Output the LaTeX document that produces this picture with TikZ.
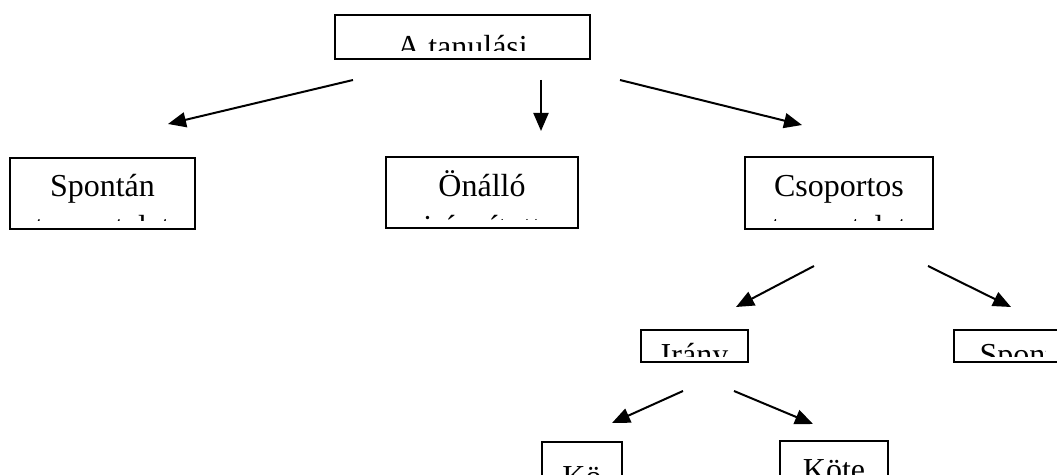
\documentclass[tikz,border=0pt]{standalone}
\usepackage{fontspec}
\setmainfont{Liberation Serif}
\usetikzlibrary{arrows.meta}
\tikzset{
  frame/.style={draw,line width=1pt,inner sep=0pt},
  word/.style={font=\fontsize{16}{19}\selectfont,inner sep=0pt,anchor=base},
  link/.style={line width=1pt,-{Triangle[length=9pt,width=7.5pt]}}
}
\begin{document}
\begin{tikzpicture}[x=0.5pt,y=-0.5pt]
  \useasboundingbox (0,0) rectangle (1057,475);
  \clip (0,0) rectangle (1057,475);
  % boxes
  \node[frame,minimum width=127.5pt,minimum height=22pt] (tanul) at (462.5,37) {};
  \node[frame,minimum width=92.5pt,minimum height=35.5pt] (spont) at (102.5,193.5) {};
  \node[frame,minimum width=96pt,minimum height=35.5pt] (onall) at (482,192.5) {};
  \node[frame,minimum width=94pt,minimum height=36pt] (csop) at (839,193) {};
  \node[frame,minimum width=53.5pt,minimum height=16pt] (irany) at (694.5,346) {};
  \node[frame,minimum width=78pt,minimum height=16pt] (spon) at (1032,346) {};
  \node[frame,minimum width=40pt,minimum height=39pt] (koto) at (582,481) {};
  \node[frame,minimum width=54pt,minimum height=39.5pt] (kote) at (834,480.5) {};
  % texts, cut off as in the original boxes
  \begin{scope}
    \clip (337,17) rectangle (588,51);
    \node[word] (tanult) at (462.5,58) {A tanulási};
  \end{scope}
  \begin{scope}
    \clip (12,160) rectangle (193,221);
    \node[word] (spontt) at (102.5,197) {Spontán};
    \node[word] (spontu) at (102.5,238) {tapasztalat};
  \end{scope}
  \begin{scope}
    \clip (388,159) rectangle (576,220);
    \node[word] (onallt) at (482,197) {Önálló};
    \node[word] (onallu) at (482,238) {irányított};
  \end{scope}
  \begin{scope}
    \clip (747,159) rectangle (931,221);
    \node[word] (csopt) at (839,197) {Csoportos};
    \node[word] (csopu) at (839,238) {tapasztalat};
  \end{scope}
  \begin{scope}
    \clip (643,332) rectangle (746,357);
    \node[word] (iranyt) at (694.5,366) {Irány};
  \end{scope}
  \begin{scope}
    \clip (956,332) rectangle (1045,357);
    \node[word] (spont2) at (1032,366) {Spontán};
  \end{scope}
  \begin{scope}
    \clip (544,444) rectangle (620,500);
    \node[word] (kotot) at (582,488) {Kö};
  \end{scope}
  \begin{scope}
    \clip (782,443) rectangle (886,500);
    \node[word] (kotet) at (834,481) {Köte};
  \end{scope}
  % arrow ends
  \coordinate (a1) at (353,80);  \coordinate (b1) at (168,124);
  \coordinate (a2) at (541,80);  \coordinate (b2) at (541,131);
  \coordinate (a3) at (620,80);  \coordinate (b3) at (802,125);
  \coordinate (a4) at (814,266); \coordinate (b4) at (736,307);
  \coordinate (a5) at (928,266); \coordinate (b5) at (1011,307);
  \coordinate (a6) at (683,391); \coordinate (b6) at (612,423);
  \coordinate (a7) at (734,391); \coordinate (b7) at (813,424);
  \foreach \s/\e in {a1/b1,a2/b2,a3/b3,a4/b4,a5/b5,a6/b6,a7/b7}
    \draw[link] (\s) -- (\e);
\end{tikzpicture}
\end{document}
